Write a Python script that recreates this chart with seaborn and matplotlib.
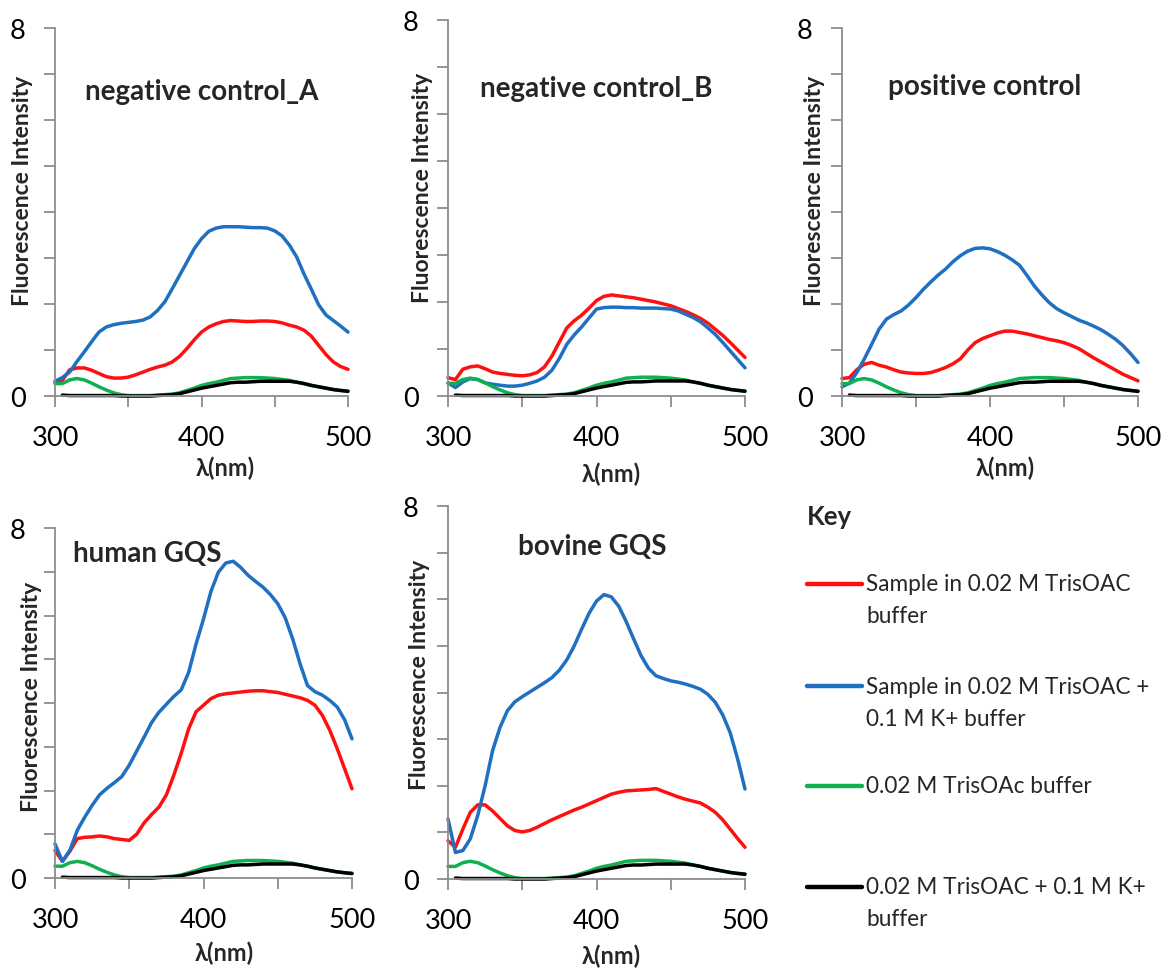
import numpy as np
import pandas as pd
import matplotlib
matplotlib.use("Agg")
import matplotlib.pyplot as plt
import seaborn as sns
from matplotlib.lines import Line2D

# ---------------- data ----------------
wavelength = [300, 305, 310, 315, 320, 325, 330, 335, 340, 345, 350, 355, 360, 365,
              370, 375, 380, 385, 390, 395, 400, 405, 410, 415, 420, 425, 430, 435,
              440, 445, 450, 455, 460, 465, 470, 475, 480, 485, 490, 495, 500]

panel_titles = ["negative control_A", "negative control_B", "positive control",
                "human GQS", "bovine GQS"]

series_names = ["Sample in 0.02 M TrisOAC\nbuffer",
                "Sample in 0.02 M TrisOAC +\n0.1 M K+ buffer",
                "0.02 M TrisOAc buffer",
                "0.02 M TrisOAC + 0.1 M K+\nbuffer"]
series_colors = ["#FF1010", "#1F70C0", "#10B050", "#000000"]

negA_red = [.30, .34, .57, .61, .61, .56, .49, .42, .39, .39, .41, .46, .52, .58,
            .63, .67, .74, .86, 1.03, 1.22, 1.39, 1.50, 1.57, 1.62, 1.64, 1.63, 1.62, 1.62,
            1.63, 1.63, 1.62, 1.59, 1.54, 1.50, 1.43, 1.30, 1.10, .90, .74, .64, .58]
negA_blue = [.32, .40, .52, .75, .96, 1.18, 1.39, 1.50, 1.55, 1.58, 1.60, 1.62, 1.65, 1.72,
             1.86, 2.05, 2.33, 2.62, 2.91, 3.20, 3.42, 3.58, 3.65, 3.68, 3.68, 3.68, 3.67, 3.66,
             3.66, 3.65, 3.59, 3.48, 3.28, 3.02, 2.65, 2.32, 1.98, 1.76, 1.64, 1.52, 1.39]

negB_red = [.39, .35, .57, .62, .64, .58, .51, .48, .46, .44, .43, .45, .50, .62,
            .85, 1.15, 1.45, 1.60, 1.72, 1.87, 2.03, 2.12, 2.15, 2.13, 2.11, 2.09, 2.06, 2.03,
            2.00, 1.96, 1.92, 1.86, 1.80, 1.73, 1.65, 1.55, 1.42, 1.29, 1.14, .98, .82]
negB_blue = [.28, .18, .30, .37, .35, .28, .25, .23, .21, .21, .23, .27, .32, .40,
             .55, .80, 1.10, 1.30, 1.47, 1.66, 1.85, 1.88, 1.89, 1.89, 1.88, 1.88, 1.87, 1.87,
             1.87, 1.86, 1.85, 1.81, 1.74, 1.67, 1.58, 1.45, 1.31, 1.14, .96, .78, .60]

pos_red = [.38, .40, .57, .69, .73, .67, .63, .57, .52, .50, .49, .49, .51, .56,
           .62, .70, .81, 1.00, 1.16, 1.25, 1.31, 1.37, 1.41, 1.41, 1.38, 1.35, 1.31, 1.27,
           1.23, 1.20, 1.16, 1.10, 1.03, .93, .83, .74, .65, .56, .47, .40, .33]
pos_blue = [.20, .28, .51, .80, 1.12, 1.45, 1.67, 1.77, 1.85, 1.98, 2.14, 2.32, 2.48, 2.63,
            2.76, 2.92, 3.05, 3.15, 3.21, 3.22, 3.20, 3.14, 3.06, 2.96, 2.84, 2.62, 2.39, 2.20,
            2.03, 1.90, 1.81, 1.73, 1.65, 1.59, 1.52, 1.44, 1.34, 1.23, 1.09, .92, .73]

human_red = [.63, .38, .61, .90, .93, .94, .96, .94, .90, .88, .86, 1.00, 1.26, 1.45,
             1.62, 1.90, 2.35, 2.85, 3.41, 3.80, 3.95, 4.10, 4.18, 4.21, 4.23, 4.25, 4.27, 4.28,
             4.28, 4.26, 4.24, 4.20, 4.16, 4.12, 4.06, 3.95, 3.72, 3.38, 2.96, 2.50, 2.04]
human_blue = [.78, .38, .63, 1.09, 1.39, 1.66, 1.90, 2.05, 2.18, 2.32, 2.58, 2.90, 3.22, 3.55,
              3.79, 3.97, 4.15, 4.30, 4.70, 5.35, 5.92, 6.55, 6.99, 7.20, 7.24, 7.10, 6.92, 6.78,
              6.65, 6.48, 6.27, 5.95, 5.47, 4.90, 4.40, 4.26, 4.18, 4.06, 3.91, 3.62, 3.18]

bovine_red = [.82, .68, 1.07, 1.43, 1.59, 1.59, 1.46, 1.30, 1.14, 1.04, 1.01, 1.04, 1.11, 1.19,
              1.27, 1.34, 1.41, 1.48, 1.54, 1.61, 1.68, 1.75, 1.82, 1.86, 1.89, 1.90, 1.91, 1.92,
              1.94, 1.88, 1.82, 1.76, 1.71, 1.67, 1.63, 1.54, 1.43, 1.27, 1.07, .87, .68]
bovine_blue = [1.29, .57, .61, .86, 1.36, 2.00, 2.75, 3.25, 3.61, 3.80, 3.91, 4.01, 4.11, 4.21,
               4.32, 4.48, 4.70, 5.00, 5.36, 5.70, 5.96, 6.10, 6.05, 5.85, 5.52, 5.15, 4.79, 4.52,
               4.36, 4.30, 4.25, 4.22, 4.18, 4.13, 4.07, 3.96, 3.79, 3.52, 3.14, 2.58, 1.93]

buffer_green = [.27, .27, .35, .38, .35, .28, .20, .13, .07, .03, .01, .01, .01, .01,
                .02, .03, .04, .07, .12, .17, .23, .27, .30, .34, .38, .39, .40, .40,
                .40, .39, .38, .36, .34, .30, .27, .23, .20, .17, .14, .12, .11]
buffer_black = [np.nan, .02, .01, .01, .01, .01, .01, .01, .01, .00, .00, .00, .00, .00,
                .01, .02, .03, .05, .09, .13, .17, .20, .23, .26, .29, .30, .30, .31,
                .32, .32, .32, .32, .32, .30, .27, .23, .20, .17, .14, .12, .10]

panel_red = [negA_red, negB_red, pos_red, human_red, bovine_red]
panel_blue = [negA_blue, negB_blue, pos_blue, human_blue, bovine_blue]

x_ticks = [300, 350, 400, 450, 500]
x_ticklabels = ["300", "", "400", "", "500"]
y_ticks = [0, 1, 2, 3, 4, 5, 6, 7, 8]
y_ticklabels = ["0", "", "", "", "", "", "", "", "8"]

# ---------------- style ----------------
sns.set_style("ticks")
plt.rcParams["font.family"] = ["Lato", "DejaVu Sans"]

fig = plt.figure(figsize=(11.7, 9.7), dpi=100)

W, H = 1170.0, 970.0
# (left px, right px, top px, bottom px)
boxes = [(55, 348, 29, 397), (448, 745, 21, 397), (842, 1138, 29, 397),
         (55, 352, 529, 879), (448, 745, 507, 880)]
title_pos = [(0.50, 0.829), (0.50, 0.82), (0.483, 0.842), (0.31, 0.93), (0.485, 0.893)]
ylab_pos = [(-0.075, 0.56), (-0.05, 0.557), (-0.057, 0.56), (-0.044, 0.52), (-0.06, 0.55)]
xlab_pos = [(0.58, -0.163), (0.55, -0.173), (0.55, -0.163), (0.57, -0.18), (0.55, -0.174)]

grey = "#8C8C8C"
palette = dict(zip(series_names, series_colors))

for i, (l, r, t, b) in enumerate(boxes):
    ax = fig.add_axes([l / W, 1 - b / H, (r - l) / W, (b - t) / H])
    df = pd.DataFrame({
        "wl": wavelength * 4,
        "val": panel_red[i] + panel_blue[i] + buffer_green + buffer_black,
        "series": sum([[s] * len(wavelength) for s in series_names], []),
    })
    sns.lineplot(data=df, x="wl", y="val", hue="series", hue_order=series_names,
                 palette=palette, estimator=None, sort=False, legend=False,
                 linewidth=2.5, ax=ax, clip_on=False)
    ax.set_xlim(300, 500)
    ax.set_ylim(0, 8)
    ax.set_xticks(x_ticks)
    ax.set_xticklabels(x_ticklabels)
    ax.set_yticks(y_ticks)
    ax.set_yticklabels(y_ticklabels)
    for sp in ["top", "right"]:
        ax.spines[sp].set_visible(False)
    for sp in ["left", "bottom"]:
        ax.spines[sp].set_color(grey)
        ax.spines[sp].set_linewidth(1.3)
    ax.tick_params(axis="both", direction="out", length=8, width=1.3, color=grey,
                   labelcolor="black", labelsize=19.5, pad=13, left=True, bottom=True)
    ax.set_ylabel("Fluorescence Intensity", fontsize=16.5, fontweight="bold")
    ax.yaxis.set_label_coords(*ylab_pos[i])
    ax.set_xlabel("λ(nm)", fontsize=17, fontweight="bold")
    ax.xaxis.set_label_coords(*xlab_pos[i])
    ax.text(title_pos[i][0], title_pos[i][1], panel_titles[i], transform=ax.transAxes,
            ha="center", va="center", fontsize=20, fontweight="bold")

# ---------------- key ----------------
fig.text(807 / W, 1 - 517 / H, "Key", ha="left", va="center", fontsize=18.5, fontweight="bold")
key_y = [585, 687, 787, 888]
for name, col, yp in zip(series_names, series_colors, key_y):
    fig.add_artist(Line2D([807 / W, 862 / W], [1 - yp / H, 1 - yp / H], color=col,
                          linewidth=3.2, solid_capstyle="round"))
    for k, line in enumerate(name.split("\n")):
        fig.text(866 / W, 1 - (yp + 32 * k) / H, line, ha="left", va="center", fontsize=16.3)

fig.savefig("out.png", dpi=100)
